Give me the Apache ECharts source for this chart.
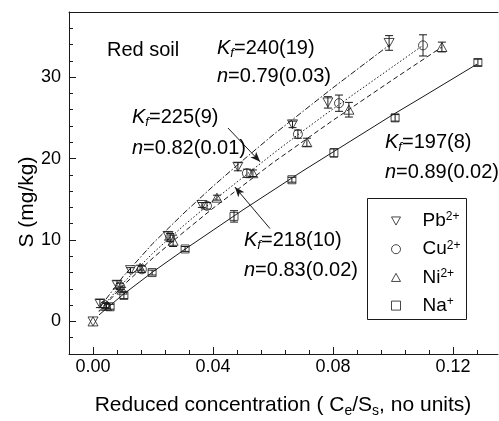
<!DOCTYPE html>
<html>
<head>
<meta charset="utf-8">
<script src="https://cdn.jsdelivr.net/npm/echarts@6/dist/echarts.min.js"></script>
<style>html,body{margin:0;padding:0;background:#fff;}#c{width:499px;height:421px;}</style>
</head>
<body>
<div id="c"></div>
<script>
// ---- data ----
const pbX = [0, 0.0023, 0.008, 0.0125, 0.025, 0.0363, 0.0483, 0.0665, 0.0783, 0.0987];
const pbY = [0, 2.2, 4.5, 6.3, 10.5, 14.3, 19.0, 24.2, 26.9, 34.2];
const pbErr = [0, 0.5, 0.5, 0.3, 0.5, 0.3, 0.5, 0.4, 0.7, 0.9];

const cuX = [0.004, 0.009, 0.0163, 0.0257, 0.038, 0.0513, 0.0683, 0.082, 0.110];
const cuY = [2.0, 4.3, 6.4, 10.3, 14.2, 18.2, 23.0, 26.8, 33.9];
const cuErr = [0.3, 0.4, 0.4, 0.5, 0.4, 0.5, 0.5, 1.0, 1.3];

const niX = [0, 0.0045, 0.0097, 0.0157, 0.0267, 0.0413, 0.0533, 0.0713, 0.0853, 0.1163];
const niY = [0, 1.9, 3.9, 6.6, 9.9, 15.2, 18.2, 22.0, 26.0, 33.7];
const niErr = [0, 0.3, 0.3, 0.3, 0.7, 0.3, 0.4, 0.5, 0.9, 0.6];

const naX = [0.0057, 0.0103, 0.0197, 0.0307, 0.047, 0.0663, 0.0803, 0.1007, 0.1283];
const naY = [1.8, 3.2, 6.0, 8.9, 12.9, 17.4, 20.7, 25.0, 31.8];
const naErr = [0.3, 0.4, 0.3, 0.3, 0.7, 0.3, 0.5, 0.4, 0.4];

// fitted curves
const pbFitX = [0.002, 0.01, 0.02, 0.03, 0.04, 0.05, 0.06, 0.07, 0.08, 0.09, 0.099];
const pbFitY = [1.6, 5.5, 9.6, 13.2, 16.6, 19.8, 22.9, 25.8, 28.7, 31.5, 34.0];
const cuFitX = [0.002, 0.01, 0.02, 0.03, 0.04, 0.05, 0.06, 0.07, 0.08, 0.09, 0.1, 0.11];
const cuFitY = [1.3, 4.7, 8.4, 11.7, 14.8, 17.7, 20.6, 23.4, 26.1, 28.7, 31.3, 33.9];
const niFitX = [0.002, 0.01, 0.02, 0.03, 0.04, 0.05, 0.06, 0.07, 0.08, 0.09, 0.1, 0.1163];
const niFitY = [1.2, 4.4, 7.8, 10.9, 13.9, 16.7, 19.5, 22.1, 24.7, 27.2, 29.7, 33.7];
const naFitX = [0.002, 0.01, 0.02, 0.03, 0.04, 0.05, 0.06, 0.07, 0.08, 0.09, 0.1, 0.11, 0.128];
const naFitY = [0.8, 3.3, 6.1, 8.7, 11.2, 13.7, 16.1, 18.5, 20.8, 23.1, 25.4, 27.6, 31.6];

const seriesNames = ['Pb2+', 'Cu2+', 'Ni2+', 'Na+'];
const legendBase = {'Pb2+': 'Pb', 'Cu2+': 'Cu', 'Ni2+': 'Ni', 'Na+': 'Na'};
const legendSup = {'Pb2+': '2+', 'Cu2+': '2+', 'Ni2+': '2+', 'Na+': '+'};

// axis ticks
const xMajor = [0, 0.04, 0.08, 0.12];
const xMinor = [-0.008, 0, 0.008, 0.016, 0.024, 0.032, 0.04, 0.048, 0.056, 0.064, 0.072, 0.08, 0.088, 0.096, 0.104, 0.112, 0.12, 0.128];
const yMajor = [0, 10, 20, 30];
const yMinor = [-2, 0, 2, 4, 6, 8, 10, 12, 14, 16, 18, 20, 22, 24, 26, 28, 30, 32, 34, 36];

// annotation arrows (data coordinates)
const arrow1 = [[0.045, 23.75], [0.0557, 19.6]];
const arrow2 = [[0.059, 11.4], [0.0473, 16.5]];

// ---- chart ----
const FONT = 'Liberation Sans, Arial, Helvetica, sans-serif';
const INK = '#1a1a1a';
const pairs = (xs, ys) => xs.map((x, i) => [x, ys[i]]);
const triDown = 'path://M0,0L10,0L5,9Z';
const triUp = 'path://M5,0L10,9L0,9Z';
const hollow = {color: 'rgba(0,0,0,0)', borderColor: INK, borderWidth: 1};

function scatter(name, xs, ys, symbol, size) {
  return {
    name: name, type: 'scatter', data: pairs(xs, ys), symbol: symbol, symbolSize: size,
    symbolKeepAspect: true, itemStyle: hollow, z: 4
  };
}
function fit(name, xs, ys, dash) {
  return {
    name: name, type: 'line', data: pairs(xs, ys), showSymbol: false, symbol: 'none',
    lineStyle: {color: INK, width: 1, type: dash}, z: 3
  };
}
function errBars(xs, ys, es) {
  return {
    type: 'custom', data: xs.map((x, i) => [x, ys[i], es[i]]), z: 5, silent: true,
    renderItem: function (params, api) {
      const x = api.value(0), y = api.value(1), e = api.value(2);
      if (!e) return null;
      const lo = api.coord([x, y - e]), hi = api.coord([x, y + e]);
      const w = 4;
      const st = {stroke: INK, lineWidth: 1};
      return {type: 'group', children: [
        {type: 'line', shape: {x1: lo[0], y1: lo[1], x2: hi[0], y2: hi[1]}, style: st},
        {type: 'line', shape: {x1: lo[0] - w, y1: lo[1], x2: lo[0] + w, y2: lo[1]}, style: st},
        {type: 'line', shape: {x1: hi[0] - w, y1: hi[1], x2: hi[0] + w, y2: hi[1]}, style: st}
      ]};
    }
  };
}

const annRich = {
  i: {fontStyle: 'italic', fontSize: 20, fontFamily: FONT, lineHeight: 24, fill: '#000'},
  sub: {fontStyle: 'italic', fontSize: 13, fontFamily: FONT, lineHeight: 13, verticalAlign: 'bottom', fill: '#000'},
  t: {fontSize: 20, fontFamily: FONT, lineHeight: 24, fill: '#000'}
};
function ann(x, y, txt) {
  return {type: 'text', x: x, y: y, z: 10, style: {text: txt, rich: annRich, align: 'left', verticalAlign: 'middle', fill: '#000', font: '20px ' + FONT}};
}

const chart = echarts.init(document.getElementById('c'), null, {renderer: 'canvas'});
chart.setOption({
  animation: false,
  backgroundColor: '#fff',
  grid: {left: 69, right: 1, top: 12, bottom: 67},
  xAxis: [
    {type: 'value', min: -0.008, max: 0.135, position: 'bottom',
     axisLine: {show: true, onZero: false, lineStyle: {color: INK, width: 1}},
     axisTick: {show: true, inside: true, length: 7, customValues: xMajor, lineStyle: {color: INK}},
     axisLabel: {show: true, customValues: xMajor, formatter: v => v.toFixed(2), fontSize: 18, fontFamily: FONT, color: '#000', margin: 4},
     splitLine: {show: false}},
    {type: 'value', min: -0.008, max: 0.135, position: 'bottom',
     axisLine: {show: false, onZero: false},
     axisTick: {show: true, inside: true, length: 4, customValues: xMinor, lineStyle: {color: INK}},
     axisLabel: {show: false}, splitLine: {show: false}},
    {type: 'value', min: -0.008, max: 0.135, position: 'top',
     axisLine: {show: true, onZero: false, lineStyle: {color: INK, width: 1}},
     axisTick: {show: false}, axisLabel: {show: false}, splitLine: {show: false}}
  ],
  yAxis: [
    {type: 'value', min: -4, max: 38, position: 'left',
     axisLine: {show: true, onZero: false, lineStyle: {color: INK, width: 1}},
     axisTick: {show: true, inside: true, length: 7, customValues: yMajor, lineStyle: {color: INK}},
     axisLabel: {show: true, customValues: yMajor, fontSize: 18, fontFamily: FONT, color: '#000', margin: 8},
     splitLine: {show: false}},
    {type: 'value', min: -4, max: 38, position: 'left',
     axisLine: {show: false, onZero: false},
     axisTick: {show: true, inside: true, length: 4, customValues: yMinor, lineStyle: {color: INK}},
     axisLabel: {show: false}, splitLine: {show: false}}
  ],
  legend: {
    orient: 'vertical', left: 391, top: 211, padding: 0, itemGap: 8.7,
    itemWidth: 9, itemHeight: 9, selectedMode: false,
    data: [
      {name: 'Pb2+', icon: triDown, itemStyle: hollow},
      {name: 'Cu2+', icon: 'circle', itemStyle: hollow},
      {name: 'Ni2+', icon: triUp, itemStyle: hollow},
      {name: 'Na+', icon: 'rect', itemStyle: hollow}
    ],
    formatter: n => '{a|' + legendBase[n] + '}{s|' + legendSup[n] + '}',
    textStyle: {
      color: '#000',
      rich: {
        a: {fontSize: 19, fontFamily: FONT, color: '#000', lineHeight: 20, padding: [0, 0, 0, 17]},
        s: {fontSize: 12, fontFamily: FONT, color: '#000', lineHeight: 6, verticalAlign: 'top'}
      }
    }
  },
  series: [
    fit('Pb fit', pbFitX, pbFitY, [6, 2, 1.5, 2]),
    fit('Cu fit', cuFitX, cuFitY, [1.5, 2]),
    fit('Ni fit', niFitX, niFitY, [5, 3]),
    Object.assign(fit('Na fit', naFitX, naFitY, 'solid'), {
      markLine: {
        silent: true, animation: false, label: {show: false},
        lineStyle: {color: INK, width: 1, type: 'solid'},
        data: [
          [{coord: arrow1[0], symbol: 'none'}, {coord: arrow1[1], symbol: 'arrow', symbolSize: [6, 10]}],
          [{coord: arrow2[0], symbol: 'none'}, {coord: arrow2[1], symbol: 'arrow', symbolSize: [6, 10]}]
        ]
      }
    }),
    errBars(pbX, pbY, pbErr),
    errBars(cuX, cuY, cuErr),
    errBars(niX, niY, niErr),
    errBars(naX, naY, naErr),
    scatter(seriesNames[0], pbX, pbY, triDown, 10),
    scatter(seriesNames[1], cuX, cuY, 'circle', 9),
    scatter(seriesNames[2], niX, niY, triUp, 10),
    scatter(seriesNames[3], naX, naY, 'rect', 8)
  ],
  graphic: [
    {type: 'rect', shape: {x: 367.5, y: 198.5, width: 99, height: 121}, style: {fill: 'none', stroke: INK, lineWidth: 1}, z: 10},
    {type: 'text', x: 107, y: 50, z: 10, style: {text: 'Red soil', font: '20px ' + FONT, fill: '#000', align: 'left', verticalAlign: 'middle'}},
    ann(217, 48, '{i|K}{sub|f}{t|=240(19)}'),
    ann(217, 76, '{i|n}{t|=0.79(0.03)}'),
    ann(132, 117, '{i|K}{sub|f}{t|=225(9)}'),
    ann(132, 148, '{i|n}{t|=0.82(0.01)}'),
    ann(385, 142, '{i|K}{sub|f}{t|=197(8)}'),
    ann(385, 172, '{i|n}{t|=0.89(0.02)}'),
    ann(244, 240, '{i|K}{sub|f}{t|=218(10)}'),
    ann(244, 270, '{i|n}{t|=0.83(0.02)}'),
    {type: 'text', x: 283, y: 405, z: 10, style: {
      text: '{t|Reduced concentration ( C}{s|e}{t|/S}{s|s}{t|, no units)}',
      rich: {
        t: {fontSize: 21, fontFamily: FONT, lineHeight: 26, fill: '#000'},
        s: {fontSize: 14, fontFamily: FONT, lineHeight: 14, verticalAlign: 'bottom', fill: '#000'}
      },
      align: 'center', verticalAlign: 'middle', fill: '#000', font: '21px ' + FONT}},
    {type: 'text', x: 27, y: 202, rotation: Math.PI / 2, z: 10, style: {
      text: 'S (mg/kg)', font: '21px ' + FONT, fill: '#000', align: 'center', verticalAlign: 'middle'}}
  ]
});
</script>
</body>
</html>
